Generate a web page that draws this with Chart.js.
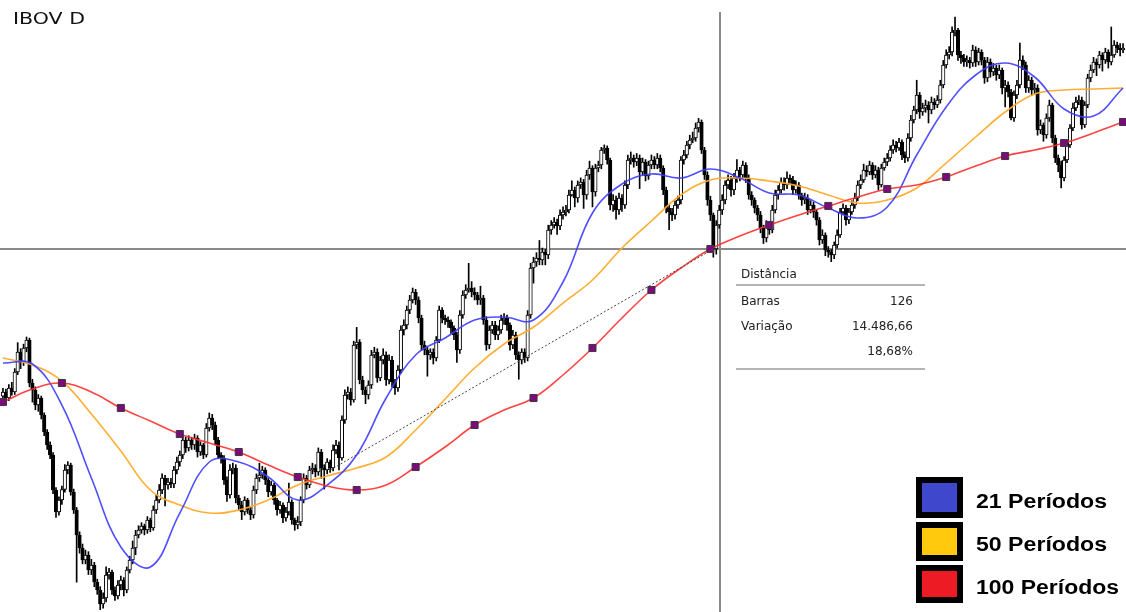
<!DOCTYPE html>
<html>
<head>
<meta charset="utf-8">
<script src="https://cdn.jsdelivr.net/npm/chart.js@4.4.1/dist/chart.umd.min.js"></script>
<style>
  html, body { margin: 0; padding: 0; background: #fff; }
  canvas { display: block; }
</style>
</head>
<body>
<canvas id="chart" width="1126" height="612"></canvas>
<script>
// IBOV daily - closes, highs, lows (open = previous close)
const firstOpen = 82400;

const closes = [
  82664, 82271, 82927, 82664, 83975, 85286, 84631, 85549, 86073, 83254,
  82796, 81812, 82271, 81157, 80042, 79190, 78535, 76240, 74798, 75585,
  76272, 77551, 77879, 76109, 74930, 73291, 72439, 71652, 71980, 70996,
  71324, 70210, 69686, 68768, 69161, 70669, 70865, 69686, 69292, 70013,
  70341, 69686, 70996, 71652, 72439, 73291, 73619, 73881, 73619, 74274,
  73750, 74930, 75585, 76240, 77027, 76568, 76765, 76634, 77551, 78076,
  78535, 79518, 78994, 79518, 79190, 79649, 78731, 79190, 78535, 80305,
  80960, 80501, 79518, 78535, 78338, 76896, 75913, 77551, 77683, 75716,
  75257, 74798, 75585, 74930, 74602, 76240, 77027, 77224, 77551, 76896,
  76109, 76568, 75585, 74930, 75257, 74405, 74798, 75454, 74274, 73946,
  74143, 75585, 77027, 76568, 77551, 77683, 77420, 78731, 77683, 77551,
  78076, 77683, 78863, 79190, 78338, 80829, 82468, 82664, 82140, 85745,
  85942, 83451, 82796, 82468, 83123, 85090, 85286, 83582, 84762, 85090,
  83451, 84762, 83320, 82927, 84107, 86729, 87056, 88040, 88695, 89219,
  88695, 87515, 85745, 85418, 85090, 85286, 84893, 86073, 88040, 87515,
  87384, 87253, 86860, 86401, 85418, 87712, 89023, 89351, 89482, 89219,
  89023, 88695, 88826, 87384, 85745, 86729, 87056, 86401, 86729, 87384,
  87515, 87056, 85745, 86401, 85090, 84762, 85286, 84893, 87712, 90793,
  91186, 91448, 91317, 91841, 91645, 93284, 93611, 93808, 93546, 94267,
  94463, 94595, 95578, 95906, 95381, 96233, 96430, 95578, 96889, 97348,
  95774, 97348, 97544, 98528, 98659, 97872, 94922, 95250, 94595, 95381,
  94922, 96233, 97872, 98003, 97741, 98003, 97085, 97741, 96823, 97544,
  97872, 97544, 98003, 97348, 95906, 94726, 94463, 94267, 94922, 95250,
  97872, 98200, 98855, 99183, 99314, 99970, 100363, 98528, 96889, 95250,
  94267, 92040, 93611, 94595, 95250, 96233, 96561, 95906, 96692, 97217,
  96889, 97544, 96692, 95578, 95250, 94726, 94267, 93415, 92759, 93611,
  93284, 94595, 95578, 95906, 96430, 96233, 96692, 96561, 95906, 96233,
  95578, 95250, 95381, 94595, 94922, 94463, 93939, 92628, 92956, 91973,
  91841, 91645, 92300, 92956, 94463, 94726, 93939, 94463, 94922, 95381,
  96233, 96561, 97217, 97085, 97544, 96889, 97217, 96233, 97348, 97741,
  98003, 98528, 98855, 98659, 99052, 98200, 98003, 99314, 100494, 101150,
  102133, 101018, 101281, 101477, 101150, 101674, 101477, 101805, 102788, 104099,
  104755, 104951, 106262, 106394, 104755, 104558, 104296, 104427, 104230, 105083,
  104296, 104951, 104427, 103247, 104296, 103640, 103903, 103444, 103772, 102592,
  102788, 102329, 100625, 102133, 102788, 104427, 104099, 102592, 103116, 102461,
  102592, 99839, 100166, 99511, 100625, 101477, 99314, 98003, 97544, 96692,
  97872, 98855, 99970, 101281, 101674, 101805, 100166, 101477, 103247, 103772,
  104296, 104099, 104755, 104427, 104951, 104296, 104755, 105410, 105214, 105083,
  105214
];

const highs = [
  82900, 82850, 83150, 83300, 84200, 85900, 85500, 85800, 86270, 86200,
  83500, 83000, 82500, 82400, 81300, 80200, 79400, 78700, 76400, 75800,
  76500, 77900, 78100, 78000, 76300, 75100, 73500, 72700, 72300, 72200,
  71700, 71500, 70400, 69900, 69500, 71200, 71100, 71000, 69900, 70300,
  70600, 70500, 71200, 71900, 72900, 73600, 73900, 74100, 74000, 74500,
  74400, 75200, 75900, 76600, 77300, 77200, 77000, 77000, 77800, 78400,
  78800, 79800, 79700, 79800, 79700, 79900, 79800, 79400, 79300, 80600,
  81290, 81200, 80700, 79700, 78700, 78500, 77100, 77900, 78000, 77900,
  75900, 75500, 75800, 75700, 75100, 76500, 77300, 78000, 77800, 77700,
  77000, 76800, 76700, 75700, 75500, 75400, 75100, 76700, 75600, 74400,
  74500, 75800, 77300, 77200, 77800, 78000, 77900, 79000, 78900, 77900,
  78300, 78200, 79200, 79500, 79400, 81100, 82800, 83000, 82900, 86000,
  86900, 86100, 83700, 83000, 83400, 85400, 85600, 85500, 85000, 85500,
  85300, 85100, 85000, 83500, 84400, 87000, 87400, 88300, 89000, 89480,
  89400, 88900, 87700, 86000, 85600, 85500, 85500, 86300, 88300, 88200,
  87700, 87600, 87400, 87000, 86600, 88000, 89300, 89700, 91100, 89900,
  89500, 89200, 89600, 89000, 87600, 87000, 87300, 87300, 87000, 87700,
  87800, 87700, 87200, 86700, 86600, 85300, 85500, 85500, 88000, 91100,
  91500, 91800, 92600, 92100, 92000, 93600, 93900, 94100, 94000, 94600,
  94800, 94900, 95900, 96500, 96100, 96500, 96700, 96600, 97200, 97800,
  97500, 97600, 97800, 98700, 98860, 98800, 98000, 95600, 95500, 95700,
  95600, 96500, 98200, 98400, 98200, 98300, 98200, 98000, 97900, 97800,
  98200, 98100, 98300, 98200, 97500, 96100, 94900, 94700, 95200, 95500,
  98100, 98500, 99100, 99500, 99700, 100300, 100600, 100500, 98700, 97100,
  95500, 94400, 93900, 94900, 95600, 96500, 96900, 96800, 97000, 97900,
  97400, 97800, 97700, 96900, 95800, 95400, 94900, 94500, 93600, 93900,
  93800, 94900, 95900, 96200, 96700, 96700, 97100, 96900, 96800, 96500,
  96400, 95700, 95700, 95600, 95200, 95100, 94600, 94100, 93300, 93100,
  92200, 92000, 92500, 93300, 94700, 95000, 94900, 94700, 95200, 95700,
  96500, 96900, 97600, 97500, 97800, 97700, 97500, 97400, 97600, 98000,
  98300, 98800, 99200, 99100, 99300, 99200, 98400, 99600, 100800, 101400,
  103100, 102300, 101600, 101800, 101700, 102000, 101900, 102100, 103100, 104400,
  105100, 105300, 106600, 107240, 106500, 105000, 104800, 104700, 104600, 105400,
  105300, 105200, 105100, 104600, 104600, 104500, 104200, 104100, 104100, 103900,
  103100, 103000, 102500, 102400, 103100, 105540, 104700, 104300, 103400, 103300,
  102900, 102800, 100500, 100300, 100900, 101800, 101600, 99500, 98200, 97800,
  98100, 99100, 100200, 101600, 102000, 102100, 102000, 101700, 103500, 104100,
  104600, 104500, 105000, 104900, 105200, 105100, 106590, 105700, 105600, 105500,
  105500
];

const lows = [
  82150, 82000, 82100, 82450, 82500, 83800, 84200, 84400, 85300, 83000,
  82000, 81500, 81400, 80900, 79800, 78900, 78300, 76000, 74450, 74600,
  75300, 76100, 77300, 75900, 74700, 70200, 72100, 71400, 71400, 70700,
  70700, 69900, 69400, 68400, 68500, 68900, 70400, 69400, 69000, 69100,
  69700, 69300, 69500, 70800, 71400, 72000, 73100, 73400, 73300, 73400,
  73500, 73600, 74700, 75400, 76000, 75200, 76300, 76400, 76400, 77300,
  77800, 78300, 78700, 78800, 78900, 78900, 78400, 78500, 78300, 78400,
  80100, 80200, 79200, 78300, 78000, 76600, 75500, 75700, 77300, 75400,
  74900, 74300, 74600, 74700, 74300, 74400, 76000, 76800, 77000, 76600,
  75800, 75900, 75300, 74600, 74700, 74100, 74200, 74600, 74000, 73600,
  73700, 73900, 75400, 76300, 76400, 77300, 77100, 77200, 77000, 76300,
  77300, 77400, 77500, 78600, 77550, 78200, 80600, 82200, 81800, 82000,
  85500, 83200, 82500, 81900, 82200, 82900, 84900, 83300, 83400, 84500,
  83100, 83200, 83000, 82500, 82700, 83900, 86400, 86800, 87800, 88500,
  88400, 87200, 85400, 85100, 83700, 84800, 84500, 84700, 85900, 87200,
  87100, 86900, 86500, 86100, 84600, 85200, 87500, 88800, 89200, 88900,
  88700, 88400, 88400, 87100, 85400, 85500, 86500, 86100, 86100, 86500,
  87100, 86700, 85400, 85500, 84800, 83500, 84500, 84600, 84700, 87500,
  89800, 90900, 91000, 91000, 91000, 91400, 93000, 93400, 93000, 93300,
  94000, 94200, 94400, 95500, 94800, 95100, 96000, 94700, 95300, 96600,
  94800, 95500, 97100, 97300, 98300, 97600, 94600, 94500, 94000, 94300,
  94500, 94700, 96000, 97600, 97400, 97500, 96000, 96900, 96500, 96600,
  97300, 97300, 97300, 97100, 95600, 94400, 93300, 93900, 94000, 94700,
  95000, 97600, 98000, 98600, 99000, 99100, 99700, 98300, 96600, 94900,
  93900, 91500, 91700, 93400, 94300, 95000, 96000, 95500, 95600, 96400,
  96500, 96700, 96400, 95300, 94900, 94400, 93900, 93100, 92400, 92500,
  93000, 93100, 94400, 95300, 95700, 95900, 96000, 96300, 95600, 95700,
  95300, 94900, 95000, 94300, 94400, 94100, 93600, 92300, 92400, 91600,
  91500, 91200, 91400, 92100, 92800, 94300, 93600, 93700, 94300, 94700,
  95200, 96000, 96400, 96800, 96900, 96600, 96700, 95900, 96100, 97200,
  97500, 97800, 98300, 98400, 98500, 97900, 97700, 97800, 99100, 100300,
  100900, 100600, 100800, 101000, 100300, 100900, 101200, 101300, 101600, 102600,
  103900, 104500, 104700, 106000, 104400, 104200, 104000, 104000, 103900, 104000,
  104000, 104100, 104100, 102900, 103000, 103300, 103400, 103100, 103200, 102200,
  101350, 102000, 100500, 100400, 101900, 102600, 103800, 102300, 102300, 102100,
  102200, 99500, 99600, 99100, 99300, 100400, 99000, 97700, 97100, 96040,
  96500, 97700, 98700, 99800, 101100, 101500, 99900, 100000, 101300, 103000,
  103600, 103400, 103900, 103700, 104200, 103900, 104100, 104600, 104900, 104700,
  104900
];

// moving averages read every 10 bars
const maBars = [0, 10, 20, 30, 40, 50, 60, 70, 80, 90, 100, 110, 120, 130, 140, 150, 160, 170, 180, 190,
  200, 210, 220, 230, 240, 250, 260, 270, 280, 290, 300, 310, 320, 330, 340, 350, 360, 370, 380];

const ma21 = [84565, 84500, 81812, 77027, 72504, 71193, 74733, 78076, 78076, 77093,
  75585, 76568, 78535, 82271, 85090, 86204, 87384, 87581, 87384, 89875,
  94398, 96299, 96954, 96692, 97282, 96692, 95709, 95578, 94726, 94070,
  94791, 98200, 101346, 103444, 104230, 103313, 101215, 100756, 102592];

const ma50 = [84893, 84434, 83385, 81222, 78797, 76240, 75257, 74733, 74930, 75585,
  76568, 77158, 77683, 78404, 80174, 82206, 84238, 85811, 86925, 88498,
  90006, 92104, 93873, 95578, 96561, 96692, 96495, 96168, 95578, 95053,
  95250, 96037, 97675, 99380, 101018, 102198, 102461, 102526, 102592];

const ma100 = [82009, 82861, 83254, 82664, 81616, 80763, 79911, 79321, 78731, 77879,
  77093, 76503, 76240, 76568, 77748, 79059, 80501, 81484, 82271, 83779,
  85549, 87515, 89351, 90793, 92039, 92890, 93611, 94267, 94857, 95447,
  95971, 96233, 96758, 97479, 98134, 98528, 98986, 99642, 100363];

const legendLabels = ['21 Períodos', '50 Períodos', '100 Períodos'];
const legendColors = ['#3F48CC', '#FFC90E', '#ED1C24'];

const measureBars = [111, 241];
const measurePrices = [77552, 92039];
const crossBar = 243.2;
const crossPrice = 92039;
const infoRows = [['Barras', '126'], ['Variação', '14.486,66'], ['', '18,68%']];

const opens = closes.map((c, i) => (i === 0 ? firstOpen : closes[i - 1]));

const overlay = {
  id: 'overlay',
  beforeDatasetsDraw(chart) {
    const { ctx, scales: { x, y } } = chart;
    const cx = Math.round(x.getPixelForValue(crossBar));
    const cy = Math.round(y.getPixelForValue(crossPrice));
    ctx.save();
    ctx.fillStyle = '#8a8a8a';
    ctx.fillRect(cx - 1, 12, 2, chart.height - 12);
    ctx.fillRect(0, cy - 1, chart.width, 2);
    ctx.restore();
  },
  afterDatasetsDraw(chart) {
    const { ctx, scales: { x, y } } = chart;
    ctx.save();

    // measurement line
    ctx.strokeStyle = '#444';
    ctx.lineWidth = 1;
    ctx.setLineDash([2, 2]);
    ctx.beginPath();
    ctx.moveTo(x.getPixelForValue(measureBars[0]), y.getPixelForValue(measurePrices[0]));
    ctx.lineTo(x.getPixelForValue(measureBars[1]), y.getPixelForValue(measurePrices[1]));
    ctx.stroke();
    ctx.setLineDash([]);

    // info panel
    ctx.fillStyle = '#fff';
    ctx.fillRect(727, 262, 205, 116);
    ctx.font = '12px "DejaVu Sans"';
    ctx.textBaseline = 'middle';
    ctx.fillStyle = '#222';
    ctx.textAlign = 'left';
    ctx.fillText('Distância', 741, 275);
    ctx.fillStyle = '#b4b4b4';
    ctx.fillRect(736, 284, 189, 2);
    ctx.fillRect(736, 368, 189, 2);
    ctx.fillStyle = '#222';
    infoRows.forEach((r, k) => {
      const ty = 302 + k * 25;
      ctx.textAlign = 'left';
      ctx.fillText(r[0], 741, ty);
      ctx.textAlign = 'right';
      ctx.fillText(r[1], 913, ty);
    });

    // title
    ctx.textAlign = 'left';
    ctx.font = '16px "DejaVu Sans"';
    ctx.fillStyle = '#111';
    let w = ctx.measureText('IBOV D').width;
    ctx.save();
    ctx.translate(13, 20);
    ctx.scale(72 / w, 1);
    ctx.fillText('IBOV D', 0, 0);
    ctx.restore();

    // legend boxes
    const boxTops = [477, 522, 565];
    const boxHeights = [41, 39, 38];
    const textY = [502, 545, 588];
    const textW = [131, 131, 143];
    legendLabels.forEach((label, k) => {
      ctx.fillStyle = '#000';
      ctx.fillRect(916, boxTops[k], 47, boxHeights[k]);
      ctx.fillStyle = legendColors[k];
      ctx.fillRect(922, boxTops[k] + 6, 35, boxHeights[k] - 12);
      ctx.font = 'bold 20px "Liberation Sans"';
      ctx.fillStyle = '#000';
      w = ctx.measureText(label).width;
      ctx.save();
      ctx.translate(976, textY[k]);
      ctx.scale(textW[k] / w, 1);
      ctx.fillText(label, 0, 0);
      ctx.restore();
    });

    ctx.restore();
  }
};

new Chart(document.getElementById('chart'), {
  type: 'bar',
  data: {
    datasets: [
      {
        type: 'line',
        label: '100',
        data: maBars.map((b, k) => ({ x: b, y: ma100[k] })),
        borderColor: 'rgba(255,45,45,0.9)',
        borderWidth: 1.6,
        tension: 0.4,
        pointRadius: (c) => (maBars[c.dataIndex] % 20 === 0 ? 5 : 0),
        pointStyle: 'rect',
        pointBackgroundColor: '#7d0a7d',
        pointBorderColor: '#3a3a3a',
        pointBorderWidth: 1,
        order: 1
      },
      {
        type: 'line',
        label: '21',
        data: maBars.map((b, k) => ({ x: b, y: ma21[k] })),
        borderColor: 'rgba(60,60,255,0.9)',
        borderWidth: 1.6,
        tension: 0.4,
        pointRadius: 0,
        order: 2
      },
      {
        type: 'line',
        label: '50',
        data: maBars.map((b, k) => ({ x: b, y: ma50[k] })),
        borderColor: 'rgba(255,170,40,0.95)',
        borderWidth: 1.6,
        tension: 0.4,
        pointRadius: 0,
        order: 3
      },
      {
        label: 'body',
        data: closes.map((c, i) => ({ x: i, y: [opens[i], c] })),
        backgroundColor: (c) => (closes[c.dataIndex] >= opens[c.dataIndex] ? '#ffffff' : '#000000'),
        borderColor: '#000',
        borderWidth: 1,
        borderSkipped: false,
        barThickness: 3.5,
        grouped: false,
        order: 5
      },
      {
        label: 'wick',
        data: highs.map((h, i) => ({ x: i, y: [lows[i], h] })),
        backgroundColor: '#000',
        borderWidth: 0,
        barThickness: 1,
        grouped: false,
        order: 6
      }
    ]
  },
  options: {
    responsive: false,
    devicePixelRatio: 1,
    animation: false,
    layout: { padding: 0, autoPadding: false },
    plugins: {
      legend: { display: false },
      tooltip: { enabled: false },
      title: { display: false }
    },
    scales: {
      x: { type: 'linear', min: -1, max: 381, offset: false, display: false },
      y: { type: 'linear', min: 68245, max: 108360, display: false }
    }
  },
  plugins: [overlay]
});
</script>
</body>
</html>
